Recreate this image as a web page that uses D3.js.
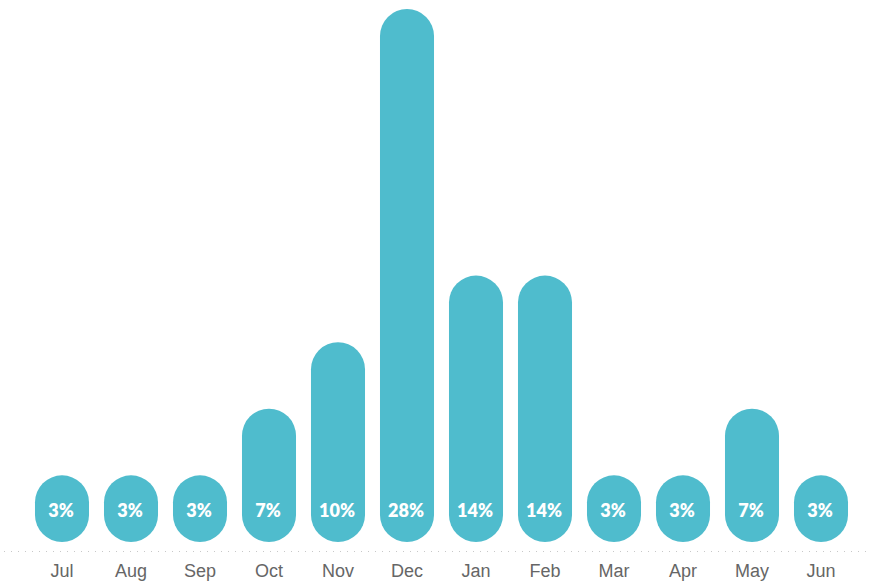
<!DOCTYPE html>
<html>
<head>
<meta charset="utf-8">
<script src="https://cdn.jsdelivr.net/npm/d3@7"></script>
<style>
  html, body { margin: 0; padding: 0; background: #fff; }
  svg { display: block; }
</style>
</head>
<body>
<svg id="chart" width="870" height="582"></svg>
<script>
const months = ["Jul","Aug","Sep","Oct","Nov","Dec","Jan","Feb","Mar","Apr","May","Jun"];
const values = [3.45, 3.45, 3.45, 6.9, 10.34, 27.59, 13.79, 13.79, 3.45, 3.45, 6.9, 3.45];
const labels = ["3%","3%","3%","7%","10%","28%","14%","14%","3%","3%","7%","3%"];

const data = months.map((m, i) => ({ month: m, value: values[i], label: labels[i] }));

const svg = d3.select("#chart");
const baseY = 542;

const x = d3.scaleBand().domain(months).range([27.5, 855.5]).paddingInner(0.217).paddingOuter(0.1085);
const y = d3.scaleLinear().domain([0, 27.59]).range([baseY, 9]);

// dotted baseline
svg.append("line")
  .attr("x1", 4).attr("x2", 866)
  .attr("y1", 551.5).attr("y2", 551.5)
  .attr("stroke", "#c8c8c8")
  .attr("stroke-width", 1)
  .attr("stroke-dasharray", "1,6");

const bw = x.bandwidth();
svg.append("g").selectAll("rect")
  .data(data)
  .join("rect")
  .attr("x", d => x(d.month))
  .attr("y", d => y(d.value))
  .attr("width", bw)
  .attr("height", d => baseY - y(d.value))
  .attr("rx", bw / 2)
  .attr("ry", bw / 2)
  .attr("fill", "#4fbccd");

svg.append("g").selectAll("text")
  .data(data)
  .join("text")
  .attr("x", d => x(d.month) + bw / 2 - 1)
  .attr("y", 517)
  .attr("text-anchor", "middle")
  .attr("fill", "#ffffff")
  .attr("font-family", "Lato, 'Open Sans', sans-serif")
  .attr("font-weight", 800)
  .attr("font-size", "18px")
  .text(d => d.label);

const axis = d3.axisBottom(x).tickSize(0).tickPadding(0);
const gx = svg.append("g").attr("transform", "translate(0,561)").call(axis);
gx.select(".domain").remove();
gx.selectAll("text")
  .attr("dy", "0")
  .attr("y", 16)
  .attr("fill", "#666666")
  .attr("font-family", "'Liberation Sans', Arial, sans-serif")
  .attr("font-size", "18px");
</script>
</body>
</html>
